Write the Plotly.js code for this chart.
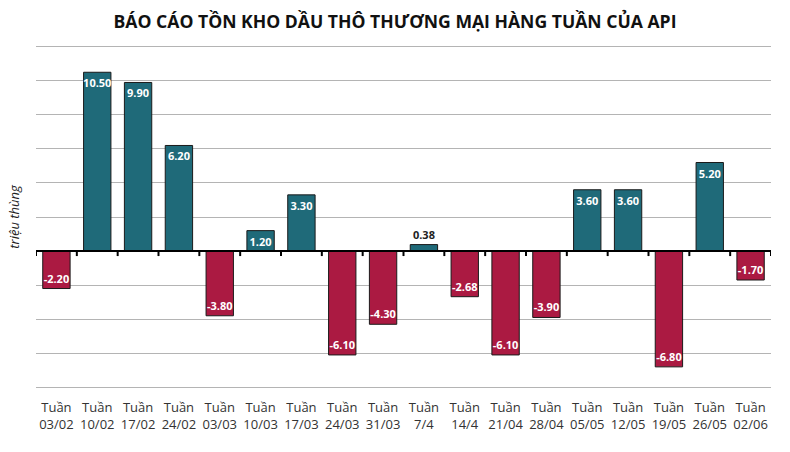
<!DOCTYPE html>
<html>
<head>
<meta charset="utf-8">
<script src="https://cdn.plot.ly/plotly-3.0.1.min.js"></script>
<style>
  html, body { margin: 0; padding: 0; background: #fff; }
  #chart { width: 790px; height: 452px; }
</style>
</head>
<body>
<div id="chart"></div>
<script>
// Chart data
var weeks = ['03/02', '10/02', '17/02', '24/02', '03/03', '10/03', '17/03', '24/03', '31/03',
  '7/4', '14/4', '21/04', '28/04', '05/05', '12/05', '19/05', '26/05', '02/06'];
var stock_change = [-2.20, 10.50, 9.90, 6.20, -3.80, 1.20, 3.30, -6.10, -4.30,
  0.38, -2.68, -6.10, -3.90, 3.60, 3.60, -6.80, 5.20, -1.70];
var chart_title = 'BÁO CÁO TỒN KHO DẦU THÔ THƯƠNG MẠI HÀNG TUẦN CỦA API';
var unit_label = 'triệu thùng';

// Colors
var up_color = '#1f6a79';
var down_color = '#ab1a42';

function bar_colors(values) {
  var colors = [];
  for (let i = 0; i < values.length; i++) {
    colors.push(values[i] >= 0 ? up_color : down_color);
  }
  return colors;
}

function text_positions(values) {
  // very small bars get their label above the bar
  var pos = [];
  for (let i = 0; i < values.length; i++) {
    pos.push(Math.abs(values[i]) < 1 ? 'outside' : 'inside');
  }
  return pos;
}

// black axis line at zero + small ticks hanging under it, between weeks
function zero_axis(n) {
  var shapes = [{
    type: 'line',
    xref: 'paper', yref: 'y',
    x0: 0, x1: 1, y0: 0, y1: 0,
    line: {color: '#000000', width: 2},
    layer: 'above',
  }];
  for (let i = 0; i <= n; i++) {
    shapes.push({
      type: 'line',
      xref: 'x', yref: 'y',
      ysizemode: 'pixel', yanchor: 0,
      x0: i - 0.5, x1: i - 0.5,
      y0: 0, y1: -5,
      line: {color: '#000000', width: 2},
      layer: 'above',
    });
  }
  return shapes;
}

var labels = weeks.map(w => 'Tuần<br>' + w);
var idx = weeks.map((_, i) => i);
var xrange = [-0.5, weeks.length - 0.5];
var yrange = [-8.1, 12.1];

var trace1 = {
  x: idx,
  y: stock_change,
  type: 'bar',
  text: stock_change.map(v => v.toFixed(2)),
  textposition: text_positions(stock_change),
  textangle: 0,
  insidetextanchor: 'end',
  insidetextfont: {color: '#ffffff', size: 11, family: 'Open Sans', weight: 'bold'},
  outsidetextfont: {color: '#222222', size: 11, family: 'Open Sans', weight: 'bold'},
  cliponaxis: false,
  hoverinfo: 'skip',
  marker: {
    color: bar_colors(stock_change),
    line: {color: '#1a1a1a', width: 1},
  },
};

var layout = {
  width: 790,
  height: 452,
  margin: {l: 36, r: 19, t: 45, b: 63},
  paper_bgcolor: '#ffffff',
  plot_bgcolor: '#ffffff',
  font: {family: 'Open Sans', color: '#333333'},
  showlegend: false,
  bargap: 0.33,
  uniformtext: {mode: 'show', minsize: 11},
  shapes: zero_axis(weeks.length),
  title: {
    text: chart_title,
    font: {size: 17.6, family: 'Open Sans', weight: 'bold', color: '#111111'},
    x: 0.5, xanchor: 'center',
    y: 0.951, yanchor: 'middle',
  },
  xaxis: {
    range: xrange,
    tickmode: 'array',
    tickvals: idx,
    ticktext: labels,
    ticks: 'outside',
    ticklen: 6,
    tickcolor: 'rgba(0,0,0,0)',
    tickfont: {size: 13, color: '#333333'},
    showline: false,
    showgrid: false,
    zeroline: false,
    fixedrange: true,
  },
  yaxis: {
    range: yrange,
    tickmode: 'linear',
    tick0: 0,
    dtick: 2,
    showticklabels: false,
    ticks: '',
    gridcolor: '#b4b4b4',
    gridwidth: 1,
    zeroline: false,
    showline: false,
    fixedrange: true,
    title: {
      text: unit_label,
      font: {size: 13, style: 'italic', color: '#222222'},
      standoff: 12,
    },
  },
};

var config = {displayModeBar: false, staticPlot: true};
Plotly.newPlot('chart', [trace1], layout, config);
</script>
</body>
</html>
